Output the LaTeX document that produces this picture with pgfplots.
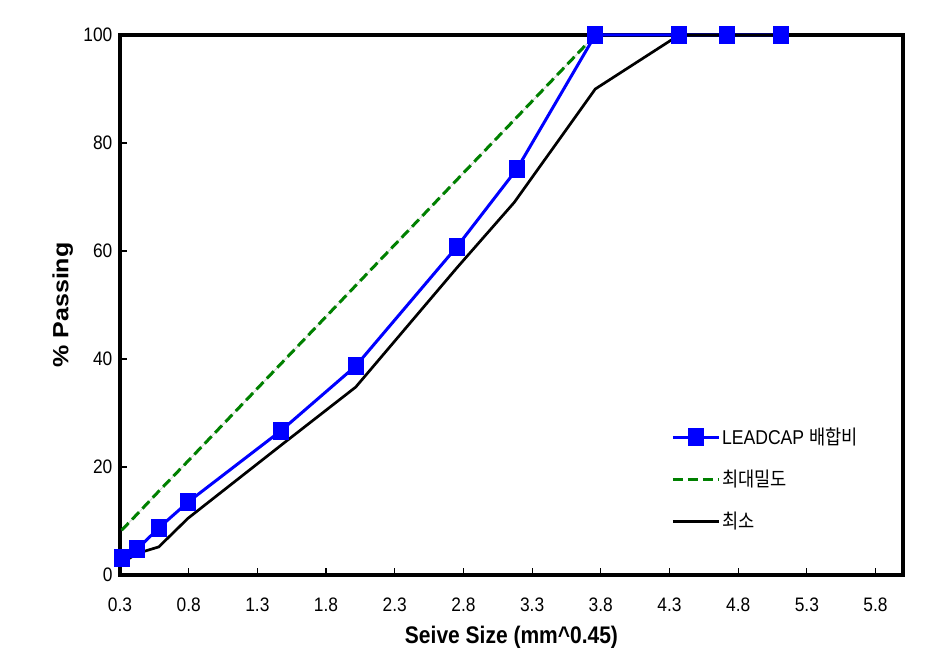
\documentclass[border=0pt]{standalone}
\usepackage{pgfplots}
\pgfplotsset{compat=1.18}
\usepackage{graphicx}
\usepackage{fontspec}
\setmainfont{Liberation Sans}
\newfontfamily\kr{Noto Sans CJK KR}
\definecolor{lblue}{RGB}{0,0,255}
\definecolor{dgreen}{RGB}{0,128,0}
\begin{document}
\begin{tikzpicture}
\begin{axis}[
  scale only axis,
  width=783pt, height=540pt,
  xmin=0.3, xmax=6.0, ymin=0, ymax=100,
  xtick={0.3,0.8,1.3,1.8,2.3,2.8,3.3,3.8,4.3,4.8,5.3,5.8},
  xticklabels={0.3,0.8,1.3,1.8,2.3,2.8,3.3,3.8,4.3,4.8,5.3,5.8},
  ytick={0,20,40,60,80,100},
  xtick pos=bottom, ytick pos=left,
  axis line style={draw=none},
  tick align=inside,
  major tick length=7pt,
  tick style={line width=1.2pt, black},
  tick label style={font=\fontsize{19.5}{19.5}\selectfont, xscale=0.89},
  /pgf/number format/assume math mode=true,
  xticklabel style={yshift=-19pt},
  yticklabel style={xshift=-5pt},
  xlabel={\scalebox{0.875}[1]{\fontsize{24}{24}\selectfont\bfseries Seive Size (mm\^{}0.45)}},
  ylabel={\scalebox{1}[0.88]{\fontsize{25}{25}\selectfont\bfseries \% Passing}},
  xlabel style={yshift=-8pt},
  ylabel style={yshift=4pt},
  clip=false,
  legend cell align=left,
  legend style={draw=none, fill=none, at={(0.70,0.28)}, anchor=north west,
    font=\fontsize{20}{20}\selectfont, row sep=20pt,
    nodes={xscale=0.88},
    legend image code/.code={\draw[mark repeat=2,mark phase=2] plot coordinates {(0pt,0pt) (23pt,0pt) (46pt,0pt)};}},
]
\draw[black, line width=3.6pt, line join=miter] (rel axis cs:0,0) rectangle (rel axis cs:1,1);
\addplot[lblue, line width=3pt, mark=square*, mark size=8.5pt, mark options={solid, fill=lblue, draw=lblue, line width=0pt, xscale=0.88}] coordinates {
(0.312,3.1) (0.426,4.8) (0.582,8.7) (0.795,13.5) (1.471,26.7) (2.016,38.7) (2.753,60.8) (3.19,75.2) (3.76,100) (4.37,100) (4.72,100) (5.11,100)
};
\addlegendentry{LEADCAP {\kr 배합비}}
\addplot[gray!35, line width=0.8pt, forget plot] coordinates {
(0.312,8.3) (0.426,11.3) (0.582,15.5) (0.795,21.1) (1.471,39.1) (2.016,53.6) (2.753,73.2) (3.19,84.8) (3.76,100)
};
\addplot[dgreen, line width=3pt, dash pattern=on 10pt off 5pt] coordinates {
(0.312,8.3) (0.426,11.3) (0.582,15.5) (0.795,21.1) (1.471,39.1) (2.016,53.6) (2.753,73.2) (3.19,84.8) (3.76,100)
};
\addlegendentry{{\kr 최대밀도}}
\addplot[black, line width=2.7pt] coordinates {
(0.312,2.2) (0.426,4) (0.582,5.2) (0.795,10.5) (1.471,24) (2.016,34.8) (2.753,56.9) (3.17,69) (3.76,90) (4.37,100) (4.72,100) (5.11,100)
};
\addlegendentry{{\kr 최소}}
\end{axis}
\path (current axis.south west) ++(-120pt,-91pt) coordinate (bl);
\path (current axis.north east) ++(35pt,35pt) coordinate (tr);
\useasboundingbox (bl) rectangle (tr);
\end{tikzpicture}
\end{document}
